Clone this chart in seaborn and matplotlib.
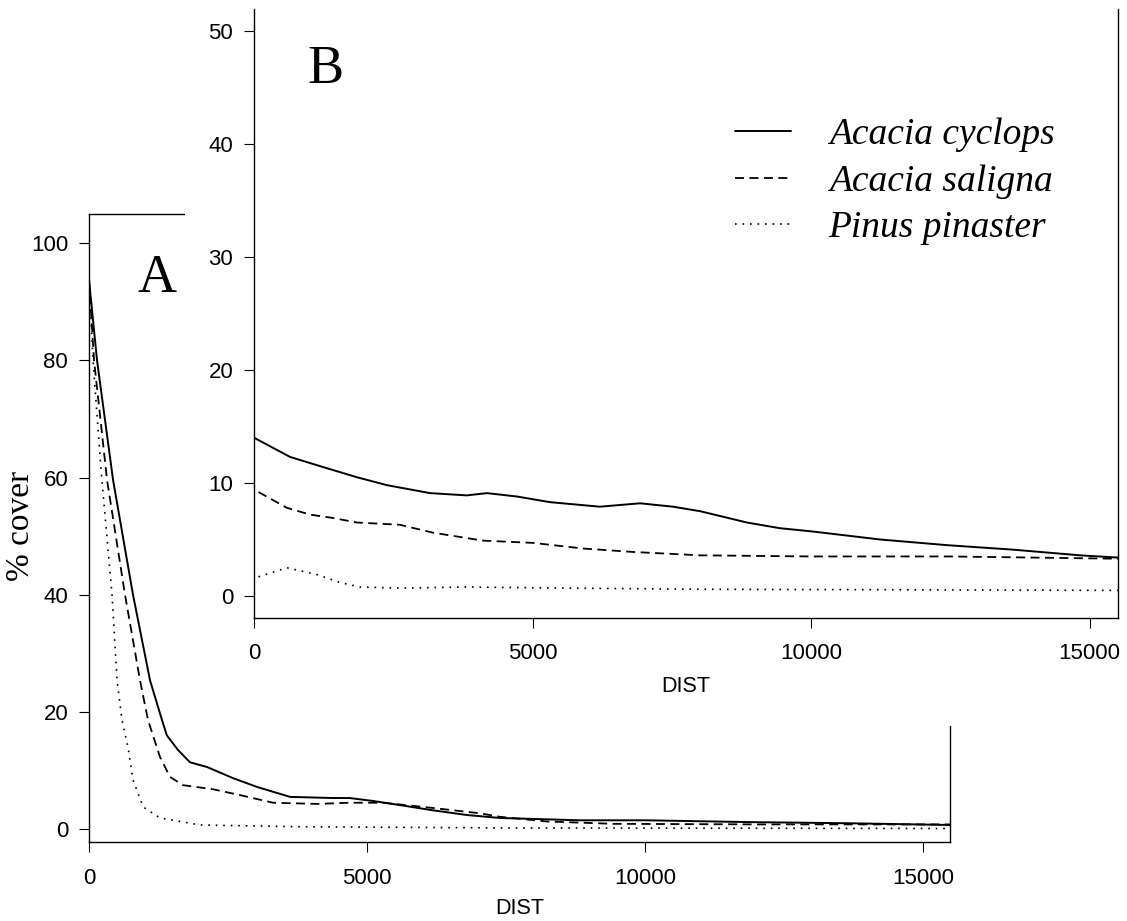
"""
Cover of three invasive species against distance: main panel (A) with the
steep decline near the source, inset panel (B) zoomed on the tail.
"""

import matplotlib
matplotlib.use("Agg")
import matplotlib.pyplot as plt
from matplotlib.patches import Rectangle
import seaborn as sns

sns.set_theme(style="ticks")
plt.rcParams["font.family"] = ["Liberation Sans", "DejaVu Sans"]
plt.rcParams["text.color"] = "black"
plt.rcParams["axes.labelcolor"] = "black"

SPECIES = ["Acacia cyclops", "Acacia saligna", "Pinus pinaster"]

# panel A: % cover vs DIST
A_CYCLOPS_X = [0, 144, 432, 791, 1097, 1313, 1400, 1600, 1817, 2122, 2590, 3020,
               3615, 4390, 4690, 5108, 5590, 6190, 6800, 7390, 8830, 10035,
               11835, 13630, 15490]
A_CYCLOPS_Y = [93.7, 80, 59.6, 40, 25.4, 18.6, 16, 13.5, 11.4, 10.6, 8.7, 7.2,
               5.5, 5.3, 5.3, 4.8, 4.1, 3.2, 2.4, 1.9, 1.5, 1.5, 1.2, 1.0, 0.7]

A_SALIGNA_X = [0, 90, 324, 647, 917, 1061, 1277, 1457, 1690, 2230, 2716, 3310,
               4100, 4690, 5290, 6190, 7030, 7390, 8235, 9425, 12000, 15490]
A_SALIGNA_Y = [93.7, 80, 59.6, 40, 25.4, 18.6, 12.3, 8.9, 7.5, 6.8, 5.8, 4.5,
               4.3, 4.5, 4.5, 3.6, 2.7, 2.1, 1.3, 0.9, 0.8, 0.8]

A_PINASTER_X = [0, 72, 216, 414, 504, 593, 701, 791, 971, 1277, 1996, 3795,
                7390, 15490]
A_PINASTER_Y = [93.7, 80, 61.3, 40, 25.4, 18.6, 14, 8.4, 3.8, 1.9, 0.7, 0.4,
                0.2, 0.1]

# panel B: zoomed tail
B_CYCLOPS_X = [0, 646, 1310, 1850, 2390, 3160, 3820, 4180, 4720, 5315, 6210,
               6930, 7520, 8010, 8850, 9440, 10040, 11240, 12440, 13630,
               14830, 15510]
B_CYCLOPS_Y = [14.0, 12.3, 11.3, 10.5, 9.8, 9.1, 8.9, 9.1, 8.8, 8.3, 7.9,
               8.2, 7.9, 7.5, 6.5, 6.0, 5.7, 5.0, 4.5, 4.1, 3.6, 3.4]

B_SALIGNA_X = [80, 590, 1005, 1420, 1850, 2620, 3215, 4110, 5010, 5910, 6800,
               8010, 10000, 12500, 15510]
B_SALIGNA_Y = [9.2, 7.8, 7.2, 6.9, 6.5, 6.3, 5.6, 4.9, 4.7, 4.2, 3.9,
               3.6, 3.5, 3.5, 3.3]

B_PINASTER_X = [80, 590, 1130, 1545, 1900, 2620, 3820, 5620, 8010, 12000, 15510]
B_PINASTER_Y = [1.7, 2.5, 1.9, 1.2, 0.8, 0.7, 0.8, 0.7, 0.6, 0.55, 0.5]

LINE_STYLES = [
    dict(linestyle="-", linewidth=1.4),
    dict(linestyle=(0, (5, 3)), linewidth=1.3),
    dict(linestyle=(0, (1, 3.5)), linewidth=1.2),
]

SERIF = ["Liberation Serif", "DejaVu Serif"]


def style_axes(ax, xlim, ylim, yticks, xpad, ypad):
    ax.set_xlim(*xlim)
    ax.set_ylim(*ylim)
    ax.set_xticks([0, 5000, 10000, 15000])
    ax.set_yticks(yticks)
    ax.tick_params(axis="both", direction="out", length=7, width=0.8,
                   colors="black", labelsize=16)
    ax.tick_params(axis="x", pad=xpad)
    ax.tick_params(axis="y", pad=ypad)
    for sp in ax.spines.values():
        sp.set_color("black")
        sp.set_linewidth(1.0)
    ax.set_facecolor("white")
    ax.grid(False)


fig = plt.figure(figsize=(11.27, 9.21), dpi=100)
fig.patch.set_facecolor("white")

# ---- panel A ----
ax_a = fig.add_axes([0.0790, 0.0858, 0.7640, 0.6819])
ax_a.set_zorder(1)
for xs, ys, st in zip([A_CYCLOPS_X, A_SALIGNA_X, A_PINASTER_X],
                      [A_CYCLOPS_Y, A_SALIGNA_Y, A_PINASTER_Y], LINE_STYLES):
    sns.lineplot(x=xs, y=ys, ax=ax_a, color="black", legend=False, **st)
style_axes(ax_a, (0, 15490), (-2.2, 105), [0, 20, 40, 60, 80, 100], 12, 8)
ax_a.set_xlabel("DIST", fontsize=15.5, labelpad=6)
ax_a.set_ylabel("% cover", fontsize=24, family=SERIF)
ax_a.yaxis.set_label_coords(-0.0616, 0.503)
ax_a.text(0.1216, 0.697, "A", transform=fig.transFigure, fontsize=39,
          family=SERIF, ha="left", va="center")

# white block that the inset sits on (hides the top right of panel A)
fig.patches.append(Rectangle((0.1642, 0.2117), 0.8358, 0.7883,
                             transform=fig.transFigure, facecolor="white",
                             edgecolor="none", zorder=2))

# ---- panel B ----
ax_b = fig.add_axes([0.2254, 0.3290, 0.7666, 0.6612])
ax_b.set_zorder(3)
for xs, ys, st, name in zip([B_CYCLOPS_X, B_SALIGNA_X, B_PINASTER_X],
                            [B_CYCLOPS_Y, B_SALIGNA_Y, B_PINASTER_Y],
                            LINE_STYLES, SPECIES):
    sns.lineplot(x=xs, y=ys, ax=ax_b, color="black", label=name, **st)
style_axes(ax_b, (0, 15510), (-1.94, 51.9), [0, 10, 20, 30, 40, 50], 11, 8)
ax_b.spines["top"].set_visible(False)
ax_b.set_xlabel("DIST", fontsize=15.5, labelpad=9)
ax_b.set_ylabel("")
ax_b.text(0.273, 0.924, "B", transform=fig.transFigure, fontsize=39,
          family=SERIF, ha="left", va="center")

leg = ax_b.legend(loc="upper left", bbox_to_anchor=(0.652, 0.872),
                  bbox_transform=fig.transFigure, frameon=False,
                  prop=dict(family=SERIF, style="italic", size=27),
                  handlelength=1.5, handletextpad=1.0, labelspacing=0.32,
                  borderpad=0, borderaxespad=0)

fig.savefig("out.png", dpi=100, facecolor="white")
